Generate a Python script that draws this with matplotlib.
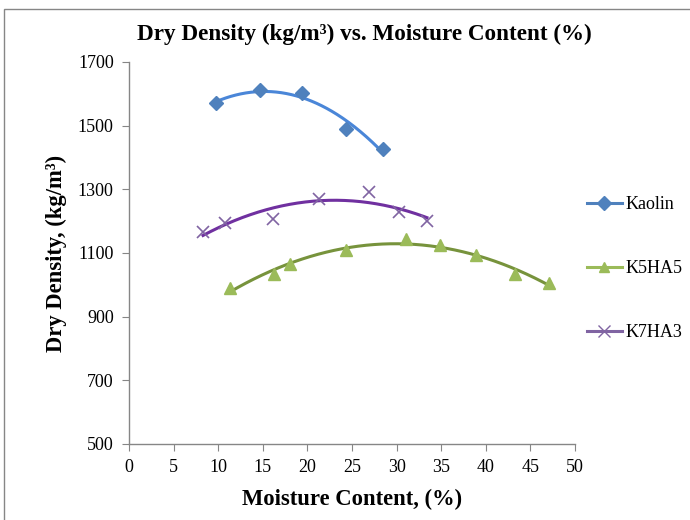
import numpy as np
import matplotlib
matplotlib.use("Agg")
import matplotlib.pyplot as plt
from matplotlib.lines import Line2D
from matplotlib.patches import Rectangle

series_names = ["Kaolin", "K5HA5", "K7HA3"]

kaolin_x = [9.7, 14.7, 19.4, 24.3, 28.5]
kaolin_y = [1570, 1612, 1603, 1490, 1426]

k5ha5_x = [11.3, 16.3, 18.1, 24.3, 31.1, 34.9, 38.9, 43.3, 47.1]
k5ha5_y = [989, 1033, 1066, 1109, 1143, 1125, 1093, 1033, 1005]

k7ha3_x = [8.3, 10.8, 16.1, 21.3, 26.9, 30.3, 33.4]
k7ha3_y = [1165, 1193, 1207, 1270, 1292, 1230, 1201]

x_ticks = [0, 5, 10, 15, 20, 25, 30, 35, 40, 45, 50]
y_ticks = [500, 700, 900, 1100, 1300, 1500, 1700]

plt.rcParams['font.family'] = ['Liberation Serif', 'DejaVu Serif']

fig = plt.figure(figsize=(6.9, 5.2), dpi=100)
ax = fig.add_axes([129/690, 1-444/520, (575-129)/690, (444-62)/520])

# outer chart border
fig.patches.append(Rectangle((4/690, -0.05), 1.2, (520-9)/520 + 0.05,
                             transform=fig.transFigure, fill=False,
                             edgecolor='#868686', linewidth=1.0))

series = [
    (kaolin_x, kaolin_y, 'D', '#4F81BD', '#4A86D8', 7),
    (k5ha5_x, k5ha5_y, '^', '#9BBB59', '#77933C', 9),
    (k7ha3_x, k7ha3_y, 'x', '#8064A2', '#7030A0', 9),
]

handles = []
for (xs, ys, mk, mcol, lcol, ms), name in zip(series, series_names):
    xs = np.array(xs); ys = np.array(ys)
    if mk == 'x':
        ax.plot(xs, ys, linestyle='none', marker='x', markersize=ms,
                markeredgecolor=mcol, markeredgewidth=1.2, zorder=3)
    else:
        ax.plot(xs, ys, linestyle='none', marker=mk, markersize=ms,
                markerfacecolor=mcol, markeredgecolor=mcol, zorder=3)
    coef = np.polyfit(xs, ys, 2)
    xx = np.linspace(xs.min(), xs.max(), 200)
    ax.plot(xx, np.polyval(coef, xx), color=lcol, linewidth=2.2, zorder=2)
    handles.append(Line2D([0], [0], color=mcol, linewidth=2.2, marker=mk,
                          markersize=7 if mk != 'x' else 8,
                          markerfacecolor=mcol, markeredgecolor=mcol,
                          markeredgewidth=1.0))

ax.set_xlim(0, 50)
ax.set_ylim(500, 1700)
ax.set_xticks(x_ticks)
ax.set_yticks(y_ticks)
for s in ['top', 'right']:
    ax.spines[s].set_visible(False)
for s in ['left', 'bottom']:
    ax.spines[s].set_color('#868686')
    ax.spines[s].set_linewidth(1.0)
ax.tick_params(axis='both', direction='out', length=5, color='#868686',
               labelsize=13, pad=6)

ax.set_title('Dry Density (kg/m³) vs. Moisture Content (%)',
             fontsize=16.7, fontweight='bold', pad=16, x=0.527)
ax.set_xlabel('Moisture Content, (%)', fontsize=16.3, fontweight='bold',
              labelpad=9)
ax.set_ylabel('Dry Density, (kg/m³)', fontsize=16.3, fontweight='bold',
              labelpad=8)

leg = fig.legend(handles, series_names, loc='upper left',
                 bbox_to_anchor=(571/690, 1-180/520), frameon=False,
                 fontsize=13, labelspacing=2.6, handlelength=1.9,
                 handletextpad=0.2)

fig.savefig('out.png', dpi=100)
